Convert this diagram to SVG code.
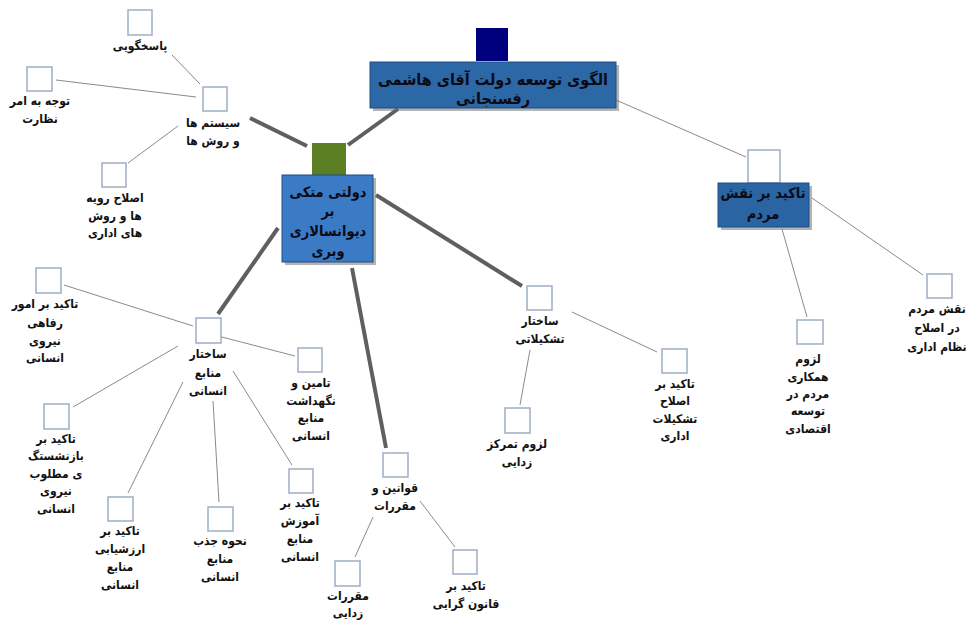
<svg xmlns="http://www.w3.org/2000/svg" width="971" height="620" viewBox="0 0 971 620">
<style>
.bg{fill:#ffffff}
.sq{fill:#ffffff;stroke:#9fadc6;stroke-width:1.5}
.thin{stroke:#8a8a8a;stroke-width:1;fill:none}
.thick{stroke:#5f5f5f;stroke-width:4;fill:none}
.lbl{font-family:"DejaVu Sans Condensed","DejaVu Sans",sans-serif;font-weight:bold;font-size:12px;fill:#111;text-anchor:middle;direction:rtl}
.big{font-family:"DejaVu Sans Condensed","DejaVu Sans",sans-serif;font-weight:bold;font-size:14.5px;fill:#0a0a14;text-anchor:middle;direction:rtl}
.rootTxt{font-size:16px}
.box{stroke:#1d4f85;stroke-width:1}
.shadow{fill:#6a6a6a;opacity:0.5}
</style>
<rect class="bg" x="0" y="0" width="971" height="620"/>
<g id="connectors">
  <line class="thick" x1="398" y1="109" x2="348" y2="145"/>
  <line class="thin" x1="616" y1="100" x2="746" y2="157"/>
  <line class="thin" x1="812" y1="198" x2="923" y2="275"/>
  <line class="thin" x1="782" y1="229" x2="807" y2="317"/>
  <line class="thick" x1="250" y1="118" x2="307" y2="146"/>
  <line class="thin" x1="172" y1="55" x2="200" y2="84"/>
  <line class="thin" x1="56" y1="80" x2="196" y2="97"/>
  <line class="thin" x1="128" y1="163" x2="178" y2="126"/>
  <line class="thick" x1="278" y1="228" x2="218" y2="314"/>
  <line class="thin" x1="64" y1="285" x2="193" y2="326"/>
  <line class="thin" x1="218" y1="336" x2="295" y2="356"/>
  <line class="thin" x1="73" y1="407" x2="178" y2="346"/>
  <line class="thin" x1="128" y1="493" x2="183" y2="382"/>
  <line class="thin" x1="213" y1="401" x2="219" y2="502"/>
  <line class="thin" x1="233" y1="371" x2="292" y2="465"/>
  <line class="thick" x1="352" y1="268" x2="386" y2="448"/>
  <line class="thin" x1="355" y1="557" x2="373" y2="517"/>
  <line class="thin" x1="420" y1="501" x2="455" y2="547"/>
  <line class="thick" x1="376" y1="195" x2="522" y2="286"/>
  <line class="thin" x1="530" y1="350" x2="520" y2="405"/>
  <line class="thin" x1="572" y1="312" x2="657" y2="352"/>
</g>
<g id="root">
  <rect x="476" y="28" width="32" height="33" fill="#00007f"/>
  <rect class="shadow" x="373" y="65" width="246" height="46"/>
  <rect class="box" x="370" y="62" width="246" height="46" fill="#2d68a6"/>
  <text class="big rootTxt" x="493" y="85">الگوی توسعه دولت آقای هاشمی</text>
  <text class="big rootTxt" x="493" y="104">رفسنجانی</text>
</g>
<g id="dolati">
  <rect x="312" y="143" width="34" height="32" fill="#5b7f22"/>
  <rect class="shadow" x="285" y="178" width="91" height="87"/>
  <rect class="box" x="282" y="175" width="91" height="87" fill="#3b7bc6"/>
  <text class="big" x="328" y="197">دولتی متکی</text>
  <text class="big" x="328" y="216">بر</text>
  <text class="big" x="328" y="236">دیوانسالاری</text>
  <text class="big" x="328" y="256">وبری</text>
</g>
<g id="naqsh">
  <rect class="sq" x="748" y="150" width="32" height="33"/>
  <rect class="shadow" x="721" y="186" width="91" height="44"/>
  <rect class="box" x="718" y="183" width="91" height="44" fill="#2a64a2"/>
  <text class="big" x="763" y="198">تاکید بر نقش</text>
  <text class="big" x="763" y="219">مردم</text>
</g>
<g id="naqsh-mardom">
  <rect class="sq" x="927" y="274" width="25" height="24"/>
  <text class="lbl" x="937" y="313">نقش مردم</text>
  <text class="lbl" x="937" y="332">در اصلاح</text>
  <text class="lbl" x="937" y="351">نظام اداری</text>
</g>
<g id="lozoom-hamkari">
  <rect class="sq" x="797" y="320" width="26" height="24"/>
  <text class="lbl" x="808" y="363">لزوم</text>
  <text class="lbl" x="808" y="381">همکاری</text>
  <text class="lbl" x="808" y="398">مردم در</text>
  <text class="lbl" x="808" y="415">توسعه</text>
  <text class="lbl" x="808" y="433">اقتصادی</text>
</g>
<g id="systemha">
  <rect class="sq" x="203" y="87" width="24" height="24"/>
  <text class="lbl" x="213" y="127">سیستم ها</text>
  <text class="lbl" x="213" y="145">و روش ها</text>
</g>
<g id="pasokhgooyi">
  <rect class="sq" x="128" y="10" width="24" height="25"/>
  <text class="lbl" x="140" y="50">پاسخگویی</text>
</g>
<g id="nezarat">
  <rect class="sq" x="27" y="67" width="25" height="24"/>
  <text class="lbl" x="40" y="105">توجه به امر</text>
  <text class="lbl" x="40" y="123">نظارت</text>
</g>
<g id="eslah-raviye">
  <rect class="sq" x="102" y="163" width="24" height="24"/>
  <text class="lbl" x="115" y="202">اصلاح رویه</text>
  <text class="lbl" x="115" y="220">ها و روش</text>
  <text class="lbl" x="115" y="237">های اداری</text>
</g>
<g id="sakhtar-manabe">
  <rect class="sq" x="196" y="318" width="25" height="25"/>
  <text class="lbl" x="208" y="358">ساختار</text>
  <text class="lbl" x="208" y="377">منابع</text>
  <text class="lbl" x="208" y="395">انسانی</text>
</g>
<g id="refahi">
  <rect class="sq" x="36" y="268" width="25" height="25"/>
  <text class="lbl" x="45" y="308">تاکید بر امور</text>
  <text class="lbl" x="45" y="327">رفاهی</text>
  <text class="lbl" x="45" y="345">نیروی</text>
  <text class="lbl" x="45" y="362">انسانی</text>
</g>
<g id="tamin">
  <rect class="sq" x="298" y="348" width="24" height="24"/>
  <text class="lbl" x="311" y="387">تامین و</text>
  <text class="lbl" x="311" y="405">نگهداشت</text>
  <text class="lbl" x="311" y="422">منابع</text>
  <text class="lbl" x="311" y="440">انسانی</text>
</g>
<g id="bazneshastegi">
  <rect class="sq" x="44" y="404" width="25" height="25"/>
  <text class="lbl" x="56" y="443">تاکید بر</text>
  <text class="lbl" x="56" y="460">بازنشستگ</text>
  <text class="lbl" x="56" y="478">ی مطلوب</text>
  <text class="lbl" x="56" y="495">نیروی</text>
  <text class="lbl" x="56" y="513">انسانی</text>
</g>
<g id="arzeshyabi">
  <rect class="sq" x="108" y="497" width="25" height="24"/>
  <text class="lbl" x="120" y="535">تاکید بر</text>
  <text class="lbl" x="120" y="553">ارزشیابی</text>
  <text class="lbl" x="120" y="571">منابع</text>
  <text class="lbl" x="120" y="589">انسانی</text>
</g>
<g id="jazb">
  <rect class="sq" x="208" y="507" width="25" height="24"/>
  <text class="lbl" x="220" y="545">نحوه جذب</text>
  <text class="lbl" x="220" y="563">منابع</text>
  <text class="lbl" x="220" y="581">انسانی</text>
</g>
<g id="amoozesh">
  <rect class="sq" x="289" y="469" width="24" height="24"/>
  <text class="lbl" x="300" y="507">تاکید بر</text>
  <text class="lbl" x="300" y="525">آموزش</text>
  <text class="lbl" x="300" y="543">منابع</text>
  <text class="lbl" x="300" y="561">انسانی</text>
</g>
<g id="ghavanin">
  <rect class="sq" x="383" y="453" width="25" height="24"/>
  <text class="lbl" x="395" y="492">قوانین و</text>
  <text class="lbl" x="395" y="510">مقررات</text>
</g>
<g id="moghararat-zodayi">
  <rect class="sq" x="335" y="561" width="25" height="25"/>
  <text class="lbl" x="348" y="600">مقررات</text>
  <text class="lbl" x="348" y="617">زدایی</text>
</g>
<g id="ghanoon-garayi">
  <rect class="sq" x="453" y="550" width="24" height="24"/>
  <text class="lbl" x="466" y="590">تاکید بر</text>
  <text class="lbl" x="466" y="608">قانون گرایی</text>
</g>
<g id="sakhtar-tashkilati">
  <rect class="sq" x="527" y="286" width="25" height="24"/>
  <text class="lbl" x="540" y="325">ساختار</text>
  <text class="lbl" x="540" y="343">تشکیلاتی</text>
</g>
<g id="tamarkoz-zodayi">
  <rect class="sq" x="505" y="408" width="25" height="25"/>
  <text class="lbl" x="517" y="448">لزوم تمرکز</text>
  <text class="lbl" x="517" y="466">زدایی</text>
</g>
<g id="eslah-tashkilat">
  <rect class="sq" x="662" y="349" width="25" height="24"/>
  <text class="lbl" x="675" y="388">تاکید بر</text>
  <text class="lbl" x="675" y="405">اصلاح</text>
  <text class="lbl" x="675" y="423">تشکیلات</text>
  <text class="lbl" x="675" y="440">اداری</text>
</g>
</svg>
